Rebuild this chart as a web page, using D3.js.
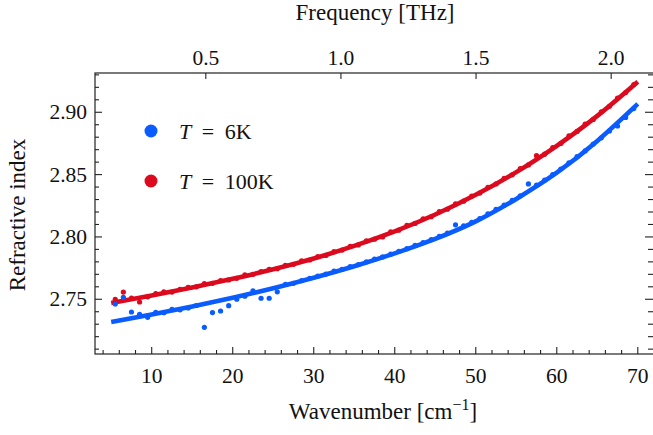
<!DOCTYPE html>
<html><head><meta charset="utf-8">
<script src="https://cdn.jsdelivr.net/npm/d3@7"></script>
<style>
html,body{margin:0;padding:0;background:#fff;}
svg{display:block;}
</style></head>
<body><svg id="c" width="653" height="435"></svg>
<script>
// ---------- data ----------
const seriesNames = ["6K", "100K"];
const fitWavenumber = [5, 10, 15, 20, 25, 30, 35, 40, 45, 50, 55, 60, 65, 70];
const fit6K   = [2.7318, 2.7378, 2.7442, 2.7512, 2.7588, 2.7672, 2.7765, 2.7868, 2.7985, 2.8125, 2.8305, 2.8515, 2.8770, 2.9067];
const fit100K = [2.7470, 2.7531, 2.7595, 2.7664, 2.7740, 2.7827, 2.7928, 2.8044, 2.8180, 2.8338, 2.8520, 2.8731, 2.8971, 2.9245];
const dotWavenumber = [5.5,6.5,7.5,8.5,9.5,10.5,11.5,12.5,13.5,14.5,15.5,16.5,17.5,18.5,19.5,20.5,21.5,22.5,23.5,24.5,25.5,26.5,27.5,28.5,29.5,30.5,31.5,32.5,33.5,34.5,35.5,36.5,37.5,38.5,39.5,40.5,41.5,42.5,43.5,44.5,45.5,46.5,47.5,48.5,49.5,50.5,51.5,52.5,53.5,54.5,55.5,56.5,57.5,58.5,59.5,60.5,61.5,62.5,63.5,64.5,65.5,66.5,67.5,68.5,69.5];
const dots100K = [2.7500,2.7558,2.7510,2.7478,2.7520,2.7545,2.7560,2.7558,2.7580,2.7595,2.7600,2.7625,2.7628,2.7650,2.7655,2.7668,2.7695,2.7700,2.7722,2.7740,2.7745,2.7772,2.7780,2.7808,2.7815,2.7842,2.7852,2.7882,2.7895,2.7925,2.7936,2.7968,2.7982,2.8000,2.8040,2.8054,2.8092,2.8108,2.8146,2.8162,2.8203,2.8222,2.8266,2.8287,2.8328,2.8352,2.8398,2.8425,2.8470,2.8498,2.8548,2.8578,2.8652,2.8664,2.8716,2.8750,2.8810,2.8846,2.8905,2.8943,2.9004,2.9048,2.9114,2.9158,2.9222];
const dots6K = [2.7462,2.7516,2.7398,2.7380,2.7355,2.7395,2.7392,2.7420,2.7415,2.7430,2.7450,2.7275,2.7393,2.7406,2.7449,2.7500,2.7525,2.7567,2.7508,2.7508,2.7560,2.7620,2.7628,2.7650,2.7668,2.7686,2.7702,2.7725,2.7740,2.7762,2.7778,2.7800,2.7822,2.7840,2.7862,2.7885,2.7906,2.7933,2.7955,2.7978,2.8005,2.8030,2.8097,2.8088,2.8118,2.8148,2.8185,2.8222,2.8255,2.8293,2.8330,2.8425,2.8415,2.8455,2.8500,2.8545,2.8595,2.8645,2.8690,2.8745,2.8795,2.8850,2.8890,2.8958,2.9030];
const yTicks = [2.75, 2.80, 2.85, 2.90];
const xTicks = [10, 20, 30, 40, 50, 60, 70];
const topTicks = [0.5, 1.0, 1.5, 2.0];
const colors = {"6K": "#0a5cff", "100K": "#dc0a1e"};

// ---------- layout ----------
const svg = d3.select("#c");
const L = 95, R = 654, T = 73, B = 354;
const cmToTHz = 0.0299792458;
const x = d3.scaleLinear().domain([3, 72]).range([L, R]);
const xTop = d3.scaleLinear().domain([3 * cmToTHz, 72 * cmToTHz]).range([L, R]);
const y = d3.scaleLinear().domain([2.7061, 2.9315]).range([B, T]);
const tickFont = 21.5;
const titleFont = 23;
const axisColor = "#222";
const fam = '"Liberation Serif","Tinos","Times New Roman",serif';

const plot = svg.append("g");
const clipId = "clipP";
svg.append("clipPath").attr("id", clipId).append("rect").attr("x", L).attr("y", T).attr("width", R - L).attr("height", B - T);

// fit lines
const fits = [["6K", fit6K], ["100K", fit100K]];
const line = d3.line().x(d => x(d[0])).y(d => y(d[1])).curve(d3.curveNatural);
fits.forEach(([name, vals]) => {
  plot.append("path")
    .datum(fitWavenumber.map((w, i) => [w, vals[i]]))
    .attr("d", line)
    .attr("fill", "none")
    .attr("stroke", colors[name])
    .attr("stroke-width", 4.6)
    .attr("stroke-linecap", "butt")
    .attr("clip-path", `url(#${clipId})`);
});
// dots
const dotSets = [["6K", dots6K], ["100K", dots100K]];
dotSets.forEach(([name, vals]) => {
  plot.append("g").selectAll("circle")
    .data(dotWavenumber.map((w, i) => [w, vals[i]]))
    .join("circle")
    .attr("cx", d => x(d[0]))
    .attr("cy", d => y(d[1]))
    .attr("r", 2.6)
    .attr("fill", colors[name]);
});

// ---------- axes / frame ----------
const frame = svg.append("g");
frame.append("rect").attr("x", L).attr("y", T).attr("width", R - L).attr("height", B - T)
  .attr("fill", "none").attr("stroke", axisColor).attr("stroke-width", 1.2);

function tickLine(x1, y1, x2, y2) {
  frame.append("line").attr("x1", x1).attr("y1", y1).attr("x2", x2).attr("y2", y2)
    .attr("stroke", axisColor).attr("stroke-width", 1.1);
}
const xMinor = d3.range(4, 72.01, 2);
xMinor.forEach(v => {
  const major = xTicks.includes(v);
  tickLine(x(v), B, x(v), B - (major ? 7 : 4));
});
const yMinor = d3.range(2.71, 2.935, 0.01).map(v => +v.toFixed(2));
yMinor.forEach(v => {
  const major = yTicks.some(t => Math.abs(t - v) < 1e-6);
  tickLine(L, y(v), L + (major ? 7 : 4), y(v));
  tickLine(R, y(v), R - (major ? 9 : 6), y(v));
});
topTicks.forEach(v => tickLine(xTop(v), T, xTop(v), T + 6));

// tick labels
const txt = svg.append("g").attr("fill", "#111").attr("font-size", tickFont).attr("font-family", fam);
xTicks.forEach(v => txt.append("text").attr("x", x(v)).attr("y", 383).attr("text-anchor", "middle").text(d3.format("d")(v)));
yTicks.forEach(v => txt.append("text").attr("x", L - 8).attr("y", y(v) + 7).attr("text-anchor", "end").text(d3.format(".2f")(v)));
topTicks.forEach(v => txt.append("text").attr("x", xTop(v)).attr("y", 65).attr("text-anchor", "middle").text(d3.format(".1f")(v)));

// axis titles
const ttl = svg.append("g").attr("fill", "#111").attr("font-size", titleFont).attr("font-family", fam);
const bt = ttl.append("text").attr("x", 383).attr("y", 419).attr("text-anchor", "middle");
bt.append("tspan").text("Wavenumber [cm");
bt.append("tspan").attr("dy", -9).attr("font-size", 16).text("\u22121");
bt.append("tspan").attr("dy", 9).text("]");
ttl.append("text").attr("x", 375).attr("y", 20).attr("text-anchor", "middle").text("Frequency [THz]");
ttl.append("text").attr("transform", "translate(25,215) rotate(-90)").attr("text-anchor", "middle").text("Refractive index");

// legend
const legend = [["6K", 131], ["100K", 181]];
legend.forEach(([name, ly]) => {
  svg.append("circle").attr("cx", 151).attr("cy", ly).attr("r", 6.5).attr("fill", colors[name]);
  const t = ttl.append("text").attr("x", 179).attr("y", ly + 8).attr("font-size", 22);
  t.append("tspan").attr("font-style", "italic").text("T");
  t.append("tspan").attr("dx", 5).text(" =");
  t.append("tspan").attr("dx", 5).text(" " + name);
});
</script></body></html>
